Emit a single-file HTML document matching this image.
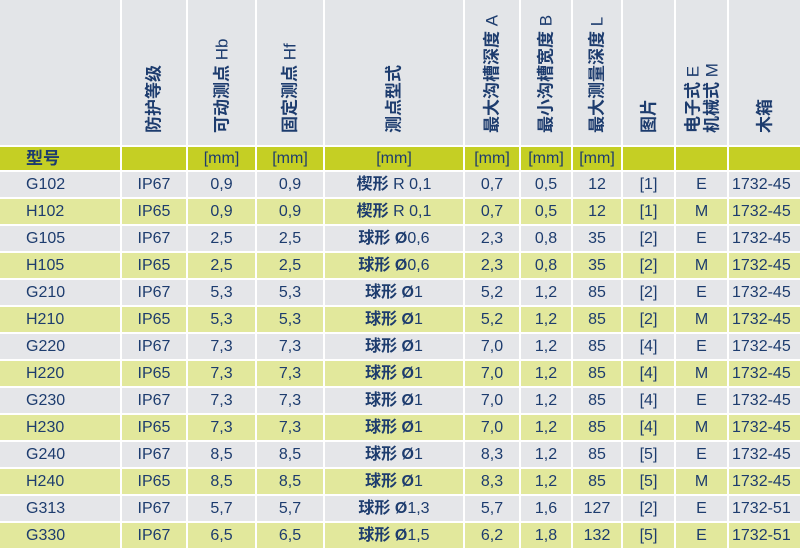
<!DOCTYPE html>
<html><head><meta charset="utf-8"><style>
body{margin:0;width:800px;height:550px;background:#fff;position:relative;overflow:hidden;font-family:"Liberation Sans Narrow","Liberation Sans","Noto Sans CJK SC",sans-serif;color:#1d3c6e}
.c{position:absolute;box-sizing:border-box;font-size:16px;line-height:26px;text-align:center;white-space:nowrap}
.h{background:#e3e5e8}
.y{background:#c5cf24;font-size:16px;line-height:23px}
.g{background:#e5e6e9}
.l{background:#e2e89c}
.v{position:absolute;top:133px;white-space:nowrap;font-size:17px;transform-origin:0 0;transform:rotate(-90deg) translateY(-50%);line-height:19px}
b{font-weight:bold}
</style></head><body>
<div id="t"></div>
<script>
var L=[0,122,188,257,325,465,521,573,623,676,729],W=[120,64,67,66,138,54,50,48,51,51,71];
var rows=[["G102","IP67","0,9","0,9","楔形 R 0,1","0,7","0,5","12","[1]","E","1732-45"],
["H102","IP65","0,9","0,9","楔形 R 0,1","0,7","0,5","12","[1]","M","1732-45"],
["G105","IP67","2,5","2,5","球形 Ø0,6","2,3","0,8","35","[2]","E","1732-45"],
["H105","IP65","2,5","2,5","球形 Ø0,6","2,3","0,8","35","[2]","M","1732-45"],
["G210","IP67","5,3","5,3","球形 Ø1","5,2","1,2","85","[2]","E","1732-45"],
["H210","IP65","5,3","5,3","球形 Ø1","5,2","1,2","85","[2]","M","1732-45"],
["G220","IP67","7,3","7,3","球形 Ø1","7,0","1,2","85","[4]","E","1732-45"],
["H220","IP65","7,3","7,3","球形 Ø1","7,0","1,2","85","[4]","M","1732-45"],
["G230","IP67","7,3","7,3","球形 Ø1","7,0","1,2","85","[4]","E","1732-45"],
["H230","IP65","7,3","7,3","球形 Ø1","7,0","1,2","85","[4]","M","1732-45"],
["G240","IP67","8,5","8,5","球形 Ø1","8,3","1,2","85","[5]","E","1732-45"],
["H240","IP65","8,5","8,5","球形 Ø1","8,3","1,2","85","[5]","M","1732-45"],
["G313","IP67","5,7","5,7","球形 Ø1,3","5,7","1,6","127","[2]","E","1732-51"],
["G330","IP67","6,5","6,5","球形 Ø1,5","6,2","1,8","132","[5]","E","1732-51"]];
var units=["<b>型号</b>","","[mm]","[mm]","[mm]","[mm]","[mm]","[mm]","","",""];
var hdr=["","防护等级","可动测点 Hb","固定测点 Hf","测点型式","最大沟槽深度 A","最小沟槽宽度 B","最大测量深度 L","图片","","木箱"];
var h="";
function pad(i){return i==0?'text-align:left;padding-left:26px;':(i==10?'text-align:left;padding-left:3px;':'');}
for(var i=0;i<11;i++){
 h+='<div class="c h" style="left:'+L[i]+'px;top:0;width:'+W[i]+'px;height:145px"></div>';
 var cx=L[i]+W[i]/2;
 if(hdr[i])h+='<div class="v" style="left:'+cx+'px">'+hdr[i].replace(/([^\x00-\x7f]+)/g,'<b>$1</b>')+'</div>';
 h+='<div class="c y" style="left:'+L[i]+'px;top:147px;width:'+W[i]+'px;height:23px;'+(i==0?'text-align:left;padding-left:26px;font-size:17px':'')+'">'+units[i]+'</div>';
 for(var r=0;r<14;r++){
  var t=rows[r][i].replace(/([^\x00-\x7f]+)/g,'<b>$1</b>');
  h+='<div class="c '+(r%2?'l':'g')+'" style="left:'+L[i]+'px;top:'+(172+r*27)+'px;width:'+W[i]+'px;height:25px;'+pad(i)+'">'+t+'</div>';
 }
}
var cx9=676+25.5;
h+='<div class="v" style="left:'+(cx9-9)+'px"><b>电子式</b> E</div>';
h+='<div class="v" style="left:'+(cx9+10)+'px"><b>机械式</b> M</div>';
document.getElementById('t').innerHTML=h;
</script>
</body></html>
